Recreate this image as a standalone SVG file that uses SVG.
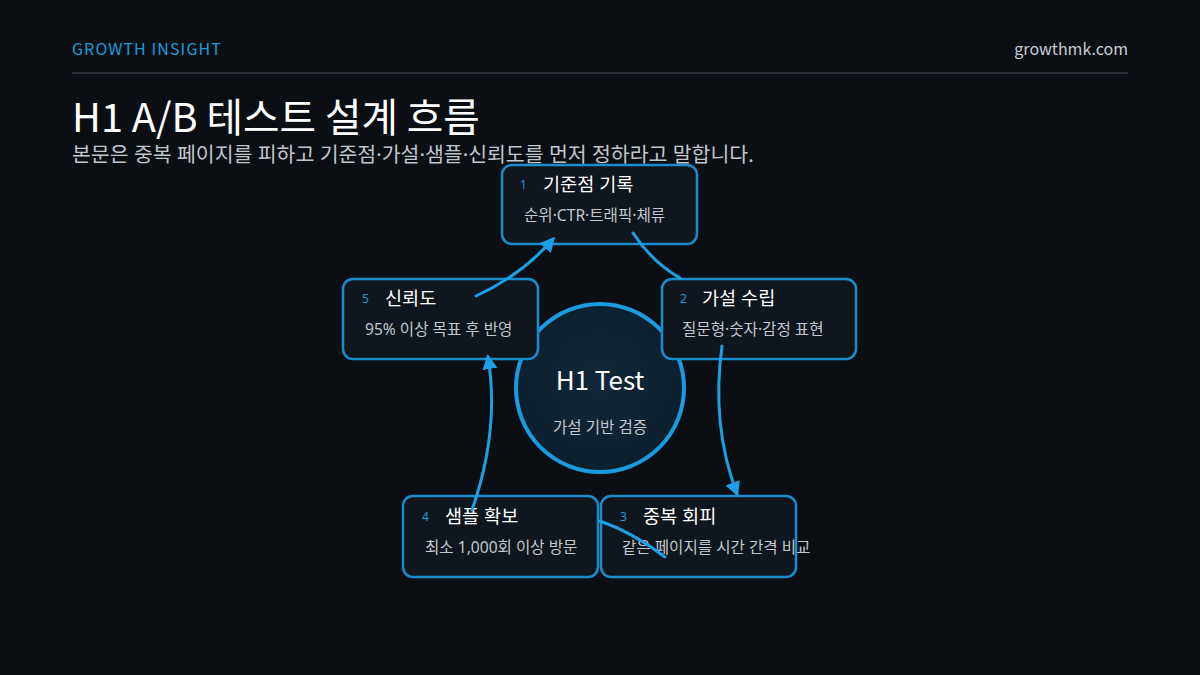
<svg xmlns="http://www.w3.org/2000/svg" width="1200" height="675" viewBox="0 0 1200 675">
<style>
text{font-family:"Noto Sans","Noto Sans CJK KR",sans-serif}
.cjk{font-family:"Noto Sans CJK KR","Noto Sans",sans-serif}
.box{fill:#0f161d;stroke:#1a8ccc;stroke-width:2.5}
.num{font-size:12px;fill:#1e9bd7}
.ttl{font-size:18.6px;fill:#ffffff}
.sub{font-size:15.6px;fill:#c3c8cd}
.con{fill:none;stroke:#19a0e6;stroke-width:3;stroke-linecap:round}
</style>
<defs>
<marker id="ah" viewBox="0 0 10 10" refX="8" refY="5" markerWidth="5" markerHeight="5" orient="auto" markerUnits="strokeWidth">
<path d="M0,0 L10,5 L0,10 Z" fill="#19a0e6"/>
</marker>
<radialGradient id="cg" cx="0.5" cy="0.45" r="0.6">
<stop offset="0" stop-color="#10283a"/>
<stop offset="1" stop-color="#0c1e2c"/>
</radialGradient>
</defs>
<rect width="1200" height="675" fill="#0b0f14"/>
<g id="header">
<text class="cjk" x="72" y="55" font-size="16" letter-spacing="1.1" fill="#1e9bd7">GROWTH INSIGHT</text>
<text class="cjk" x="1128" y="55" font-size="16" fill="#c8cdd2" text-anchor="end">growthmk.com</text>
<rect x="72" y="72" width="1056" height="2" fill="#2a3038"/>
<text class="cjk" x="72" y="132" font-size="39.7" fill="#ffffff">H1 A/B 테스트 설계 흐름</text>
<text x="72" y="162" font-size="20.5" fill="#c0c6cc">본문은 중복 페이지를 피하고 기준점·가설·샘플·신뢰도를 먼저 정하라고 말합니다.</text>
</g>
<g id="center">
<circle cx="600" cy="388" r="84" fill="url(#cg)" stroke="#1a9be0" stroke-width="4"/>
<text class="cjk" x="600" y="390" font-size="26" fill="#ffffff" text-anchor="middle">H1 Test</text>
<text x="600" y="433" font-size="15.6" fill="#c3c8cd" text-anchor="middle">가설 기반 검증</text>
</g>
<g id="node1">
<rect class="box" x="502" y="165" width="195" height="79" rx="10"/>
<text class="num" x="520" y="189">1</text>
<text class="ttl" x="543" y="191">기준점 기록</text>
<text class="sub" x="524" y="221">순위·CTR·트래픽·체류</text>
</g>
<g id="node2">
<rect class="box" x="662" y="279" width="194" height="80" rx="10"/>
<text class="num" x="680" y="303">2</text>
<text class="ttl" x="702" y="305">가설 수립</text>
<text class="sub" x="682" y="335">질문형·숫자·감정 표현</text>
</g>
<g id="node3">
<rect class="box" x="601" y="496" width="195" height="81" rx="10"/>
<text class="num" x="620" y="521">3</text>
<text class="ttl" x="643" y="523">중복 회피</text>
<text class="sub" x="622" y="553">같은 페이지를 시간 간격 비교</text>
</g>
<g id="node4">
<rect class="box" x="403" y="496" width="195" height="81" rx="10"/>
<text class="num" x="422" y="521">4</text>
<text class="ttl" x="445" y="523">샘플 확보</text>
<text class="sub" x="425" y="553">최소 1,000회 이상 방문</text>
</g>
<g id="node5">
<rect class="box" x="343" y="279" width="195" height="80" rx="10"/>
<text class="num" x="362" y="303">5</text>
<text class="ttl" x="385" y="305">신뢰도</text>
<text class="sub" x="365" y="335">95% 이상 목표 후 반영</text>
</g>
<g id="connectors">
<path class="con" d="M633,233 Q652,262 680,278"/>
<path class="con" d="M722,346 Q711,425 737,494" marker-end="url(#ah)"/>
<path class="con" d="M665,557 Q632,532 600,521"/>
<path class="con" d="M472,510 Q500,430 488,357" marker-end="url(#ah)"/>
<path class="con" d="M476,296 Q522,275 553,239" marker-end="url(#ah)"/>
</g>
</svg>
